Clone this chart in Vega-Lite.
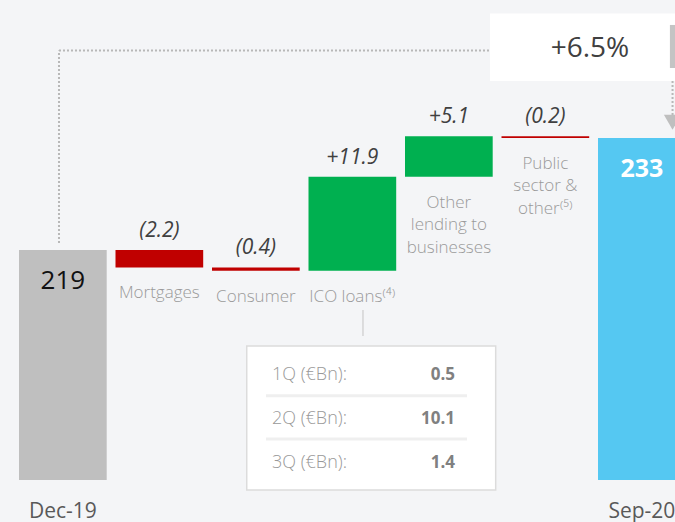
{
  "$schema": "https://vega.github.io/schema/vega-lite/v6.json",
  "width": 675,
  "height": 480,
  "autosize": {"type": "none"},
  "padding": {"left": 0, "right": 0, "top": 0, "bottom": 42},
  "background": "#f4f5f7",
  "config": {
    "view": {"stroke": null},
    "font": "Open Sans",
    "axisX": {"domain": false, "ticks": false, "grid": false, "labelAngle": 0}
  },
  "resolve": {"scale": {"y": "independent"}},
  "layer": [
    {
      "data": {
        "values": [
          {"cat": "Dec-19", "kind": "start", "value": 219, "lab": "219"},
          {"cat": "Mortgages", "kind": "dec", "lo": 216.8, "hi": 219, "lab": "(2.2)", "name": "Mortgages"},
          {"cat": "Consumer", "kind": "dec", "lo": 216.4, "hi": 216.8, "lab": "(0.4)", "name": "Consumer"},
          {"cat": "ICO loans", "kind": "inc", "lo": 216.4, "hi": 228.3, "lab": "+11.9", "name": "ICO loans⁽⁴⁾"},
          {"cat": "Other lending", "kind": "inc", "lo": 228.3, "hi": 233.4, "lab": "+5.1", "name": "Other\nlending to\nbusinesses"},
          {"cat": "Public sector", "kind": "dec", "lo": 233.2, "hi": 233.4, "lab": "(0.2)", "name": "Public\nsector &\nother⁽⁵⁾"},
          {"cat": "Sep-20", "kind": "end", "value": 233.2, "lab": "233"}
        ]
      },
      "layer": [
        {
          "data": {"values": [{}]},
          "mark": {"type": "rule", "color": "#b8b8b8", "strokeWidth": 2, "strokeDash": [2, 2]},
          "encoding": {
            "x": {"datum": "Dec-19", "type": "nominal", "bandPosition": 0.456, "title": null},
            "x2": {"datum": "Sep-20", "bandPosition": 0.85},
            "y": {"datum": 244.27, "type": "quantitative", "axis": null}
          }
        },
        {
          "data": {"values": [{}]},
          "mark": {"type": "rule", "color": "#b8b8b8", "strokeWidth": 2, "strokeDash": [2, 2]},
          "encoding": {
            "x": {"datum": "Dec-19", "type": "nominal", "bandPosition": 0.456, "title": null},
            "y": {"datum": 219.9, "type": "quantitative", "axis": null},
            "y2": {"datum": 244.27}
          }
        },
        {
          "data": {"values": [{}]},
          "mark": {"type": "rect", "color": "#ffffff"},
          "encoding": {
            "x": {"datum": "Other lending", "type": "nominal", "bandPosition": 0.969, "title": null},
            "x2": {"datum": "Sep-20", "bandPosition": 1},
            "y": {"datum": 248.95, "type": "quantitative", "axis": null},
            "y2": {"datum": 240.41}
          }
        },
        {
          "data": {"values": [{}]},
          "mark": {"type": "rect", "color": "#c4c4c4"},
          "encoding": {
            "x": {"datum": "Sep-20", "type": "nominal", "bandPosition": 0.82, "title": null},
            "x2": {"datum": "Sep-20", "bandPosition": 1},
            "y": {"datum": 247.5, "type": "quantitative", "axis": null},
            "y2": {"datum": 242.05}
          }
        },
        {
          "data": {"values": [{"t": "+6.5%"}]},
          "mark": {"type": "text", "fontSize": 28, "color": "#404040", "baseline": "middle", "align": "center"},
          "encoding": {
            "x": {"datum": "Public sector", "type": "nominal", "bandPosition": 1.009, "title": null},
            "y": {"datum": 244.52, "type": "quantitative", "axis": null},
            "text": {"field": "t"}
          }
        },
        {
          "data": {"values": [{}]},
          "mark": {"type": "rule", "color": "#b8b8b8", "strokeWidth": 2, "strokeDash": [2, 2]},
          "encoding": {
            "x": {"datum": "Sep-20", "type": "nominal", "bandPosition": 0.85, "title": null},
            "y": {"datum": 240.41, "type": "quantitative", "axis": null},
            "y2": {"datum": 236.1}
          }
        },
        {
          "data": {"values": [{}]},
          "mark": {"type": "point", "shape": "triangle-down", "filled": true, "size": 300, "color": "#bfbfbf", "opacity": 1},
          "encoding": {
            "x": {"datum": "Sep-20", "type": "nominal", "bandPosition": 0.85, "title": null},
            "y": {"datum": 235.2, "type": "quantitative", "axis": null}
          }
        },
        {
          "transform": [{"filter": "datum.kind === 'start' || datum.kind === 'end'"}],
          "mark": {"type": "bar"},
          "encoding": {
            "x": {
              "field": "cat",
              "type": "nominal",
              "title": null,
              "scale": {
                "domain": ["Dec-19", "Mortgages", "Consumer", "ICO loans", "Other lending", "Public sector", "Sep-20"],
                "range": [14.6, 690.1],
                "paddingInner": 0.0912,
                "paddingOuter": 0.0456
              },
              "axis": {
                "labelExpr": "datum.value === 'Dec-19' || datum.value === 'Sep-20' ? datum.value : ''",
                "labelFontSize": 21,
                "labelColor": "#595959",
                "labelPadding": 20,
                "labelFont": "Open Sans"
              }
            },
            "y": {"field": "value", "type": "quantitative", "scale": {"domain": [189.9, 250.66], "zero": false, "nice": false}, "axis": null},
            "y2": {"datum": 189.9},
            "color": {
              "field": "kind",
              "type": "nominal",
              "scale": {"domain": ["start", "end", "inc", "dec"], "range": ["#bfbfbf", "#55c8f2", "#00b050", "#c00000"]},
              "legend": null
            }
          }
        },
        {
          "transform": [{"filter": "datum.kind === 'inc' || datum.kind === 'dec'"}],
          "mark": {"type": "bar"},
          "encoding": {
            "x": {"field": "cat", "type": "nominal", "title": null},
            "y": {"field": "hi", "type": "quantitative", "axis": null},
            "y2": {"field": "lo"},
            "color": {"field": "kind", "type": "nominal", "legend": null}
          }
        },
        {
          "data": {"values": [{}]},
          "mark": {"type": "rect", "color": "#ffffff", "stroke": "#dcdcdc", "strokeWidth": 1.5},
          "encoding": {
            "x": {"datum": "Consumer", "type": "nominal", "bandPosition": 0.396, "title": null},
            "x2": {"datum": "Other lending", "bandPosition": 1.034},
            "y": {"datum": 206.86, "type": "quantitative", "axis": null},
            "y2": {"datum": 188.63}
          }
        },
        {
          "data": {"values": [{}]},
          "mark": {"type": "rule", "color": "#d4d4d4", "strokeWidth": 1.5},
          "encoding": {
            "x": {"datum": "ICO loans", "type": "nominal", "bandPosition": 0.621, "title": null},
            "y": {"datum": 211.42, "type": "quantitative", "axis": null},
            "y2": {"datum": 208.13}
          }
        },
        {
          "data": {"values": [{"s": 200.57}, {"s": 195.09}]},
          "mark": {"type": "rule", "color": "#efefef", "strokeWidth": 3},
          "encoding": {
            "x": {"datum": "Consumer", "type": "nominal", "bandPosition": 0.616, "title": null},
            "x2": {"datum": "Other lending", "bandPosition": 0.707},
            "y": {"field": "s", "type": "quantitative", "axis": null}
          }
        },
        {
          "transform": [{"filter": "datum.kind === 'start'"}],
          "mark": {"type": "text", "fontSize": 26, "color": "#111111", "baseline": "middle", "dy": 31},
          "encoding": {
            "x": {"field": "cat", "type": "nominal", "title": null},
            "y": {"field": "value", "type": "quantitative", "axis": null},
            "text": {"field": "lab"}
          }
        },
        {
          "transform": [{"filter": "datum.kind === 'end'"}],
          "mark": {"type": "text", "fontSize": 25, "fontWeight": "bold", "color": "#ffffff", "baseline": "middle", "dy": 31},
          "encoding": {
            "x": {"field": "cat", "type": "nominal", "title": null},
            "y": {"field": "value", "type": "quantitative", "axis": null},
            "text": {"field": "lab"}
          }
        },
        {
          "transform": [{"filter": "datum.kind === 'inc' || datum.kind === 'dec'"}],
          "mark": {"type": "text", "fontSize": 21, "fontStyle": "italic", "color": "#404040", "baseline": "middle", "dy": -19},
          "encoding": {
            "x": {"field": "cat", "type": "nominal", "title": null},
            "y": {"field": "hi", "type": "quantitative", "axis": null},
            "text": {"field": "lab"}
          }
        },
        {
          "transform": [{"filter": "datum.kind === 'inc' || datum.kind === 'dec'"}],
          "mark": {"type": "text", "fontSize": 17, "fontWeight": 300, "color": "#9a9a9a", "baseline": "top", "dy": 18, "lineBreak": "\n", "lineHeight": 22.5},
          "encoding": {
            "x": {"field": "cat", "type": "nominal", "title": null},
            "y": {"field": "lo", "type": "quantitative", "axis": null},
            "text": {"field": "name"}
          }
        }
      ]
    },
    {
      "data": {
        "values": [
          {"q": "1Q (€Bn):", "amt": "0.5"},
          {"q": "2Q (€Bn):", "amt": "10.1"},
          {"q": "3Q (€Bn):", "amt": "1.4"}
        ]
      },
      "layer": [
        {
          "mark": {"type": "text", "align": "left", "baseline": "middle", "fontSize": 18, "fontWeight": 300, "color": "#999999"},
          "encoding": {
            "x": {"datum": "Consumer", "type": "nominal", "bandPosition": 0.684, "title": null},
            "y": {"field": "q", "type": "ordinal", "scale": {"type": "point", "range": [375, 463], "padding": 0}, "axis": null},
            "text": {"field": "q"}
          }
        },
        {
          "mark": {"type": "text", "align": "right", "baseline": "middle", "fontSize": 17, "fontWeight": "bold", "color": "#808080"},
          "encoding": {
            "x": {"datum": "Other lending", "type": "nominal", "bandPosition": 0.57, "title": null},
            "y": {"field": "q", "type": "ordinal", "axis": null},
            "text": {"field": "amt"}
          }
        }
      ]
    }
  ]
}
